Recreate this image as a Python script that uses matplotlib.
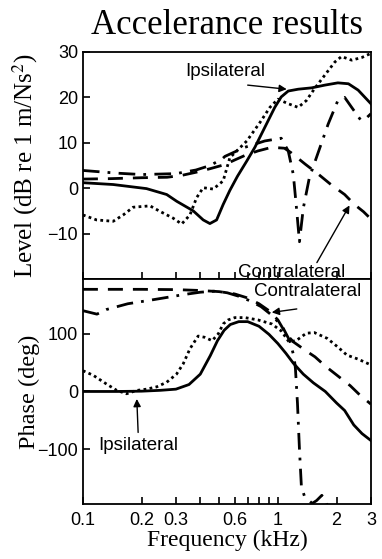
import matplotlib
matplotlib.use('Agg')
import matplotlib.pyplot as plt
from matplotlib.ticker import FixedLocator, NullFormatter, FixedFormatter

plt.rcParams['font.family'] = ['Liberation Sans', 'DejaVu Sans']
plt.rcParams['mathtext.fontset'] = 'stix'

# level (dB re 1 m/Ns^2)
f_lvl_solid = [0.1, 0.143, 0.212, 0.269, 0.303, 0.368, 0.414, 0.448, 0.485, 0.524, 0.567,
               0.62, 0.693, 0.762, 0.857, 0.964, 1.04, 1.13, 1.27, 1.49, 1.74, 2.03, 2.3, 2.58, 3.0]
lvl_solid = [1.2, 0.8, -0.1, -1.4, -2.9, -5.0, -7.0, -7.8, -7.0, -3.6, -0.5,
             2.6, 6.0, 9.0, 13.4, 17.8, 20.1, 21.4, 21.8, 22.1, 22.7, 23.2, 23.0, 21.6, 18.6]

f_lvl_dot = [0.1, 0.1175, 0.143, 0.161, 0.181, 0.221, 0.248, 0.29, 0.321, 0.354, 0.383, 0.414,
             0.466, 0.524, 0.567, 0.693, 0.81, 0.91, 1.0, 1.13, 1.27, 1.4, 1.54, 1.74, 1.96,
             2.12, 2.39, 2.7, 3.0]
lvl_dot = [-5.9, -7.0, -7.3, -5.9, -4.2, -3.9, -5.1, -6.6, -7.9, -5.9, -2.1, 0.1,
           -0.2, 1.6, 6.7, 10.4, 14.5, 17.8, 19.6, 18.6, 17.8, 19.3, 21.9, 24.9, 27.8,
           29.0, 28.2, 28.8, 29.7]

f_lvl_dash = [0.1, 0.14, 0.2, 0.27, 0.32, 0.38, 0.45, 0.535, 0.6, 0.677, 0.79, 0.93,
              1.08, 1.17, 1.38, 1.62, 1.87, 2.2, 2.47, 2.75, 3.0]
lvl_dash = [2.0, 2.1, 2.3, 2.4, 2.8, 3.5, 4.3, 5.2, 6.2, 7.2, 8.2, 9.0,
            8.8, 7.8, 5.3, 3.0, 0.8, -1.4, -3.6, -5.2, -6.8]

f_lvl_dashdot = [0.1, 0.15, 0.2, 0.3, 0.38, 0.45, 0.52, 0.535, 0.677, 0.857, 1.04, 1.13,
                 1.2, 1.25, 1.29, 1.35, 1.45, 1.62, 1.81, 2.03, 2.2, 2.39, 2.67, 2.85, 3.0]
lvl_dashdot = [3.9, 3.3, 3.0, 3.2, 4.0, 5.0, 6.5, 7.0, 9.0, 10.4, 11.0, 8.2,
               3.0, -5.1, -11.8, -4.4, 2.3, 8.2, 14.1, 19.3, 20.0, 17.8, 14.9, 15.5, 16.4]

# phase (deg)
f_ph_solid = [0.1, 0.15, 0.2, 0.25, 0.3, 0.35, 0.4, 0.45, 0.49, 0.53, 0.57, 0.63, 0.7,
              0.8, 0.9, 1.0, 1.1, 1.2, 1.35, 1.52, 1.75, 2.0, 2.2, 2.45, 2.7, 3.0]
ph_solid = [0, 0, 0.5, 2, 4, 12, 30, 62, 88, 106, 116, 121, 121,
            113, 99, 83, 66, 49, 30, 15, 0, -20, -33, -58, -73, -85]

f_ph_dot = [0.1, 0.113, 0.132, 0.149, 0.1675, 0.188, 0.212, 0.239, 0.269, 0.302, 0.327,
            0.354, 0.39, 0.42, 0.46, 0.495, 0.524, 0.556, 0.602, 0.677, 0.79, 0.93, 1.04,
            1.14, 1.24, 1.4, 1.54, 1.79, 2.03, 2.26, 2.58, 3.0]
ph_dot = [36, 28, 13, 2, -4, 1.7, 4, 8, 16, 30, 48,
          74, 96, 94, 88, 100, 117, 124, 128, 128, 124, 117, 105,
          86, 88, 101, 102, 92, 77, 63, 56, 46]

f_ph_dash = [0.1, 0.2, 0.3, 0.4, 0.5, 0.6, 0.7, 0.8, 0.9, 1.0, 1.1, 1.2, 1.4, 1.55,
             1.75, 2.1, 2.35, 2.63, 3.0]
ph_dash = [177, 177, 176.5, 175, 173, 169, 162, 152, 140, 124, 100, 86, 70, 60,
           44, 23, 10, -6, -22]

f_ph_dashdot = [0.1, 0.118, 0.132, 0.17, 0.22, 0.27, 0.33, 0.4, 0.48, 0.55, 0.63, 0.72,
                0.82, 0.94, 1.06, 1.15, 1.21, 1.23, 1.26, 1.29, 1.32, 1.37, 1.42, 1.5,
                1.58, 1.68, 1.76, 1.85, 2.2, 3.0]
ph_dashdot = [140, 134, 142, 152, 158, 163, 168, 172, 174, 171, 165, 157,
              147, 131, 111, 88, 60, 40, -20, -100, -165, -182, -187, -194,
              -189, -180, -190, -210, -250, -280]

xticks_major = [0.1, 0.2, 0.3, 0.6, 1, 2, 3]
xtick_labels = ['0.1', '0.2', '0.3', '0.6', '1', '2', '3']
xticks_minor = [0.4, 0.5, 0.7, 0.8, 0.9]

lw = 2.0
styles = {
    'solid': dict(ls='-', lw=lw),
    'dot': dict(ls=(0, (1, 1.2)), lw=lw),
    'dash': dict(ls=(0, (5.4, 3.6)), lw=lw),
    'dashdot': dict(ls=(0, (6.0, 2.9, 1.0, 3.0)), lw=lw),
}

serif = 'Liberation Serif'
fig = plt.figure(figsize=(3.82, 5.59), dpi=100)
ax1 = fig.add_axes([0.217, 0.501, 0.754, 0.406])
ax2 = fig.add_axes([0.217, 0.0984, 0.754, 0.4026])

ax1.plot(f_lvl_solid, lvl_solid, color='k', **styles['solid'])
ax1.plot(f_lvl_dot, lvl_dot, color='k', **styles['dot'])
ax1.plot(f_lvl_dash, lvl_dash, color='k', **styles['dash'])
ax1.plot(f_lvl_dashdot, lvl_dashdot, color='k', **styles['dashdot'])

ax2.plot(f_ph_solid, ph_solid, color='k', **styles['solid'])
ax2.plot(f_ph_dot, ph_dot, color='k', **styles['dot'])
ax2.plot(f_ph_dash, ph_dash, color='k', **styles['dash'])
ax2.plot(f_ph_dashdot, ph_dashdot, color='k', **styles['dashdot'])

for ax in (ax1, ax2):
    ax.set_xscale('log')
    ax.set_xlim(0.1, 3)
    ax.xaxis.set_major_locator(FixedLocator(xticks_major))
    ax.xaxis.set_minor_locator(FixedLocator(xticks_minor))
    ax.xaxis.set_minor_formatter(NullFormatter())
    ax.tick_params(which='both', direction='in', length=5, width=1.2,
                   labelsize=13, top=False, right=False)
    for s in ax.spines.values():
        s.set_linewidth(1.3)

ax1.set_ylim(-20, 30)
ax1.set_yticks([-10, 0, 10, 20, 30])
ax1.xaxis.set_major_formatter(NullFormatter())
ax2.set_ylim(-195, 195)
ax2.set_yticks([-100, 0, 100])
ax2.xaxis.set_major_formatter(FixedFormatter(xtick_labels))
ax2.tick_params(axis='x', pad=6)

ax1.set_title('Accelerance results', family=serif, fontsize=25, pad=13)
ax1.set_ylabel('Level (dB re 1 m/Ns$^2$)', family=serif, fontsize=18, labelpad=5)
ax2.set_ylabel('Phase (deg)', family=serif, fontsize=17.5, labelpad=-2)
ax2.set_xlabel('Frequency (kHz)', family=serif, fontsize=17, labelpad=0)

arrow = dict(arrowstyle='-|>', color='k', lw=1.0, mutation_scale=11, shrinkA=0, shrinkB=0)
txt = dict(fontsize=13.5, ha='center', va='center')

ax1.text(0.54, 25.8, 'Ipsilateral', **txt)
ax1.annotate('', xy=(1.11, 21.8), xytext=(0.70, 22.7), arrowprops=arrow)
ax1.text(1.18, -19.6, 'Contralateral', fontsize=13.5, ha='center', va='baseline')
ax1.annotate('', xy=(2.33, -3.8), xytext=(1.585, -16.4), arrowprops=arrow)

ax2.text(1.42, 173, 'Contralateral', **txt)
ax2.annotate('', xy=(0.93, 137), xytext=(1.25, 143), arrowprops=arrow)
ax2.text(0.192, -93, 'Ipsilateral', **txt)
ax2.annotate('', xy=(0.189, -13), xytext=(0.192, -71), arrowprops=arrow)

fig.savefig('out.png', dpi=100)
